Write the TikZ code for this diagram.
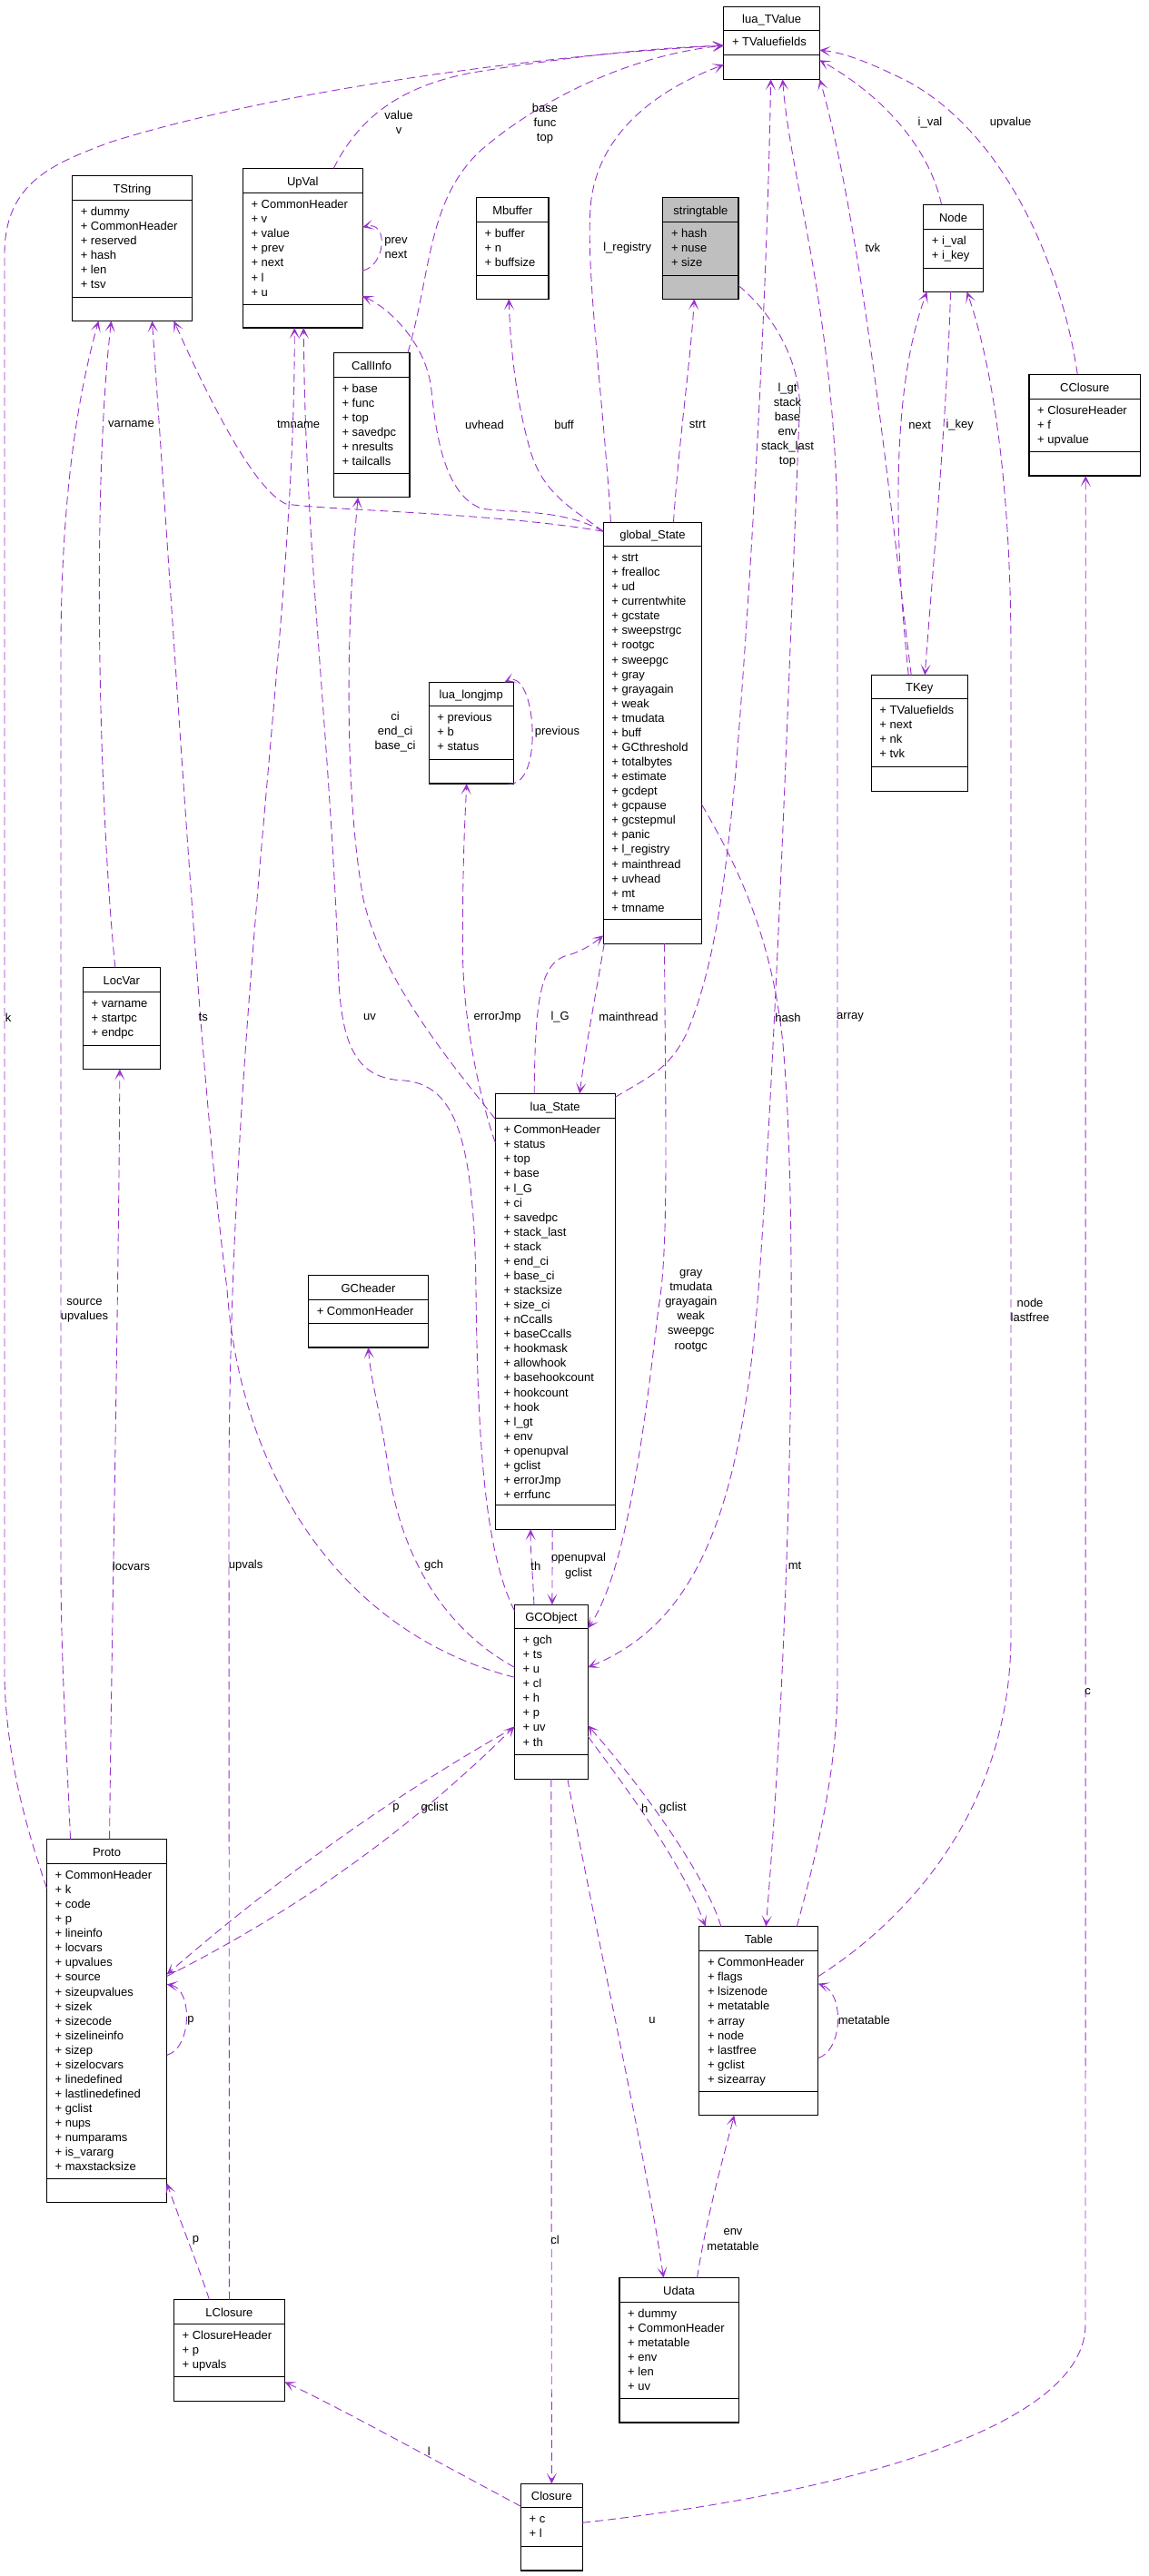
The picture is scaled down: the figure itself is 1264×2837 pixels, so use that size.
\documentclass[tikz,border=0pt]{standalone}
\usepackage{fontspec}
\setmainfont{Liberation Sans}
\usetikzlibrary{arrows.meta}
\definecolor{edgecol}{HTML}{9A32CD}
\definecolor{grayfill}{HTML}{BFBFBF}
\tikzset{
  boxfillstyle/.style={fill=white},
  classbox/.style={draw=black, line width=1.2pt, boxfillstyle, inner sep=0pt, outer sep=0pt},
  ttl/.style={font=\fontsize{13}{16}\selectfont, inner sep=0pt, text height=9.3pt, text depth=0pt},
  attr/.style={ttl, anchor=west},
  lbl/.style={font=\fontsize{13}{16.07}\selectfont, align=center, inner sep=0pt},
  edge/.style={draw=edgecol, line width=0.9pt, dash pattern=on 9pt off 5pt,
    -{Stealth[length=12pt,width=11pt,inset=7pt]}},
}
% #1 name, #2 left, #3 top, #4 right, #5 bottom, #6 sep1, #7 sep2, #8 title, #9 attributes
\newcommand\umlbox[9]{%
  \node[classbox, minimum width={(#4-#2)*1pt}, minimum height={(#5-#3)*1pt}] (#1) at ({(#2+#4)/2},{(#3+#5)/2}) {};
  \draw[line width=1.2pt] ({#2},{#6}) -- ({#4},{#6}) ({#2},{#7}) -- ({#4},{#7});
  \node[ttl] (#1-t) at ({(#2+#4)/2},{(#3+#6)/2+0.5}) {#8};
  \foreach \a [count=\i from 0] in {#9} {\node[attr] (#1-a\i) at ({#2+9},{#6+12.4+16.07*\i}) {+ \a};}
}
\begin{document}
\begin{tikzpicture}[x=1pt,y=-1pt]
\fill[white] (0,0) rectangle (1264,2837);
\useasboundingbox (0,0) rectangle (1264,2837);

% ---------------- classes ----------------
\umlbox{TValue}{796.8}{7.3}{902.4}{87.2}{33.4}{60.2}{lua\_TValue}{TValuefields}
\umlbox{TString}{79.6}{193.3}{211.4}{353.5}{220.4}{327.4}{TString}{dummy,CommonHeader,reserved,hash,len,tsv}
\umlbox{UpVal}{267.3}{185.5}{399.2}{360.9}{212.6}{335.6}{UpVal}{CommonHeader,v,value,prev,next,l,u}
\umlbox{Mbuffer}{524.5}{217.6}{604}{329.2}{244.3}{303.5}{Mbuffer}{buffer,n,buffsize}
\tikzset{boxfillstyle/.style={fill=grayfill}}
\umlbox{stringtable}{729.8}{217.6}{813}{329.2}{244.3}{303.5}{stringtable}{hash,nuse,size}
\tikzset{boxfillstyle/.style={fill=white}}
\umlbox{Node}{1016.7}{225.4}{1082.4}{321.4}{252.5}{295.2}{Node}{i\_val,i\_key}
\umlbox{CallInfo}{367.3}{388.4}{451}{547.7}{415.5}{521.6}{CallInfo}{base,func,top,savedpc,nresults,tailcalls}
\umlbox{CClosure}{1133}{412.3}{1255.5}{523.9}{439.4}{497.2}{CClosure}{ClosureHeader,f,upvalue}
\umlbox{globalState}{664.2}{575.3}{772.7}{1039.3}{601.5}{1012.2}{global\_State}{strt,frealloc,ud,currentwhite,gcstate,sweepstrgc,rootgc,sweepgc,gray,grayagain,weak,tmudata,buff,GCthreshold,totalbytes,estimate,gcdept,gcpause,gcstepmul,panic,l\_registry,mainthread,uvhead,mt,tmname}
\umlbox{longjmp}{472.2}{751.4}{565.3}{863}{777.6}{836.4}{lua\_longjmp}{previous,b,status}
\umlbox{TKey}{959.2}{743.6}{1065.3}{871.3}{769.3}{844.6}{TKey}{TValuefields,next,nk,tvk}
\umlbox{LocVar}{91.4}{1065.5}{176.3}{1177.5}{1092.6}{1151.3}{LocVar}{varname,startpc,endpc}
\umlbox{luaState}{545.3}{1204.5}{677.1}{1684.2}{1231.7}{1657.6}{lua\_State}{CommonHeader,status,top,base,l\_G,ci,savedpc,stack\_last,stack,end\_ci,base\_ci,stacksize,size\_ci,nCcalls,baseCcalls,hookmask,allowhook,basehookcount,hookcount,hook,l\_gt,env,openupval,gclist,errorJmp,errfunc}
\umlbox{GCheader}{339.6}{1404.6}{471.4}{1484}{1431.7}{1457.4}{GCheader}{CommonHeader}
\umlbox{GCObject}{566.5}{1767.3}{647.3}{1959.2}{1793.5}{1932.6}{GCObject}{gch,ts,u,cl,h,p,uv,th}
\umlbox{Proto}{51.4}{2025.3}{183.7}{2425.5}{2052.4}{2399.4}{Proto}{CommonHeader,k,code,p,lineinfo,locvars,upvalues,source,sizeupvalues,sizek,sizecode,sizelineinfo,sizep,sizelocvars,linedefined,lastlinedefined,gclist,nups,numparams,is\_vararg,maxstacksize}
\umlbox{Table}{769.8}{2121.6}{900.8}{2329.6}{2148.7}{2303.4}{Table}{CommonHeader,flags,lsizenode,metatable,array,node,lastfree,gclist,sizearray}
\umlbox{LClosure}{191.4}{2532.5}{313.5}{2644.1}{2559.6}{2617.5}{LClosure}{ClosureHeader,p,upvals}
\umlbox{Udata}{682}{2508.6}{813.1}{2668}{2535.3}{2641.3}{Udata}{dummy,CommonHeader,metatable,env,len,uv}
\umlbox{Closure}{573.5}{2735.5}{641.2}{2831}{2761.6}{2804.3}{Closure}{c,l}

% ---------------- connectors ----------------
% k
\draw[edge] ([yshift=146pt]Proto.west) .. controls (35,2030) and (8,1950) .. (5,1850) -- (5,280)
  .. controls (5,200) and (60,180) .. (120,157) .. controls (300,100) and (600,60) .. ([yshift=-3pt]TValue.west);
% value v
\draw[edge] ([xshift=34pt]UpVal.north) .. controls (395,130) and (440,95) .. (520,80)
  .. controls (600,67) and (700,53) .. ([yshift=-3pt]TValue.west);
% base func top
\draw[edge] ([xshift=-2pt]CallInfo.north east) .. controls (475,300) and (470,220) .. (530,165)
  .. controls (600,105) and (700,60) .. ([yshift=-3pt]TValue.west);
% l_registry
\draw[edge] ([xshift=-46pt]globalState.north) .. controls (665,450) and (645,300) .. (650,230)
  .. controls (655,150) and (720,100) .. ([yshift=-24pt]TValue.west);
% l_gt stack ...
\draw[edge] ([yshift=-4pt]luaState.north east) .. controls (710,1188) and (735,1180) .. (755,1140)
  .. controls (790,1060) and (800,950) .. (810,850) .. controls (830,600) and (845,300) .. ([xshift=-1pt]TValue.south);
% hash
\draw[edge] ([yshift=-41pt]stringtable.east) .. controls (850,345) and (885,400) .. (880,460)
  .. controls (870,700) and (855,1150) .. (835,1420) .. controls (815,1680) and (760,1790) .. ([yshift=27pt]GCObject.east);
% mt
\draw[edge] ([yshift=-79pt]globalState.east) .. controls (810,950) and (850,1030) .. (862,1150)
  .. controls (880,1350) and (870,1800) .. ([xshift=8pt]Table.north);
% array
\draw[edge] ([xshift=42pt]Table.north) .. controls (905,2020) and (922,1940) .. (922,1850) -- (922,600)
  .. controls (922,350) and (870,200) .. ([xshift=12pt]TValue.south);
% node lastfree
\draw[edge] ([yshift=49pt]Table.east) .. controls (990,2120) and (1113,2000) .. (1113,1800) -- (1113,720)
  .. controls (1113,500) and (1085,380) .. ([xshift=15pt]Node.south);
% c
\draw[edge] ([yshift=5pt]Closure.east) .. controls (900,2750) and (1195,2680) .. (1195,2560) -- ([xshift=1pt]CClosure.south);
% upvalue
\draw[edge] ([xshift=-8pt]CClosure.north) .. controls (1170,300) and (1110,150) .. (1000,90)
  .. controls (960,70) and (930,58) .. ([yshift=-8pt]TValue.east);
% i_val
\draw[edge] ([xshift=-13pt]Node.north) .. controls (1025,170) and (980,110) .. ([yshift=-19pt]TValue.east);
% tvk
\draw[edge] ([xshift=-9pt]TKey.north) .. controls (985,600) and (950,250) .. (TValue.south east);
% next
\draw[edge] ([xshift=-12pt]TKey.north) .. controls (985,600) and (980,430) .. ([xshift=-29pt]Node.south);
% i_key
\draw[edge] ([xshift=-3pt]Node.south) .. controls (1043,450) and (1025,650) .. ([xshift=6pt]TKey.north);
% strt
\draw[edge] ([xshift=23pt]globalState.north) .. controls (748,480) and (760,400) .. ([xshift=-7pt]stringtable.south);
% buff
\draw[edge] ([yshift=-10pt]globalState.north west) .. controls (630,560) and (600,545) .. (585,500)
  .. controls (570,450) and (562,390) .. ([xshift=-4pt]Mbuffer.south);
% uvhead
\draw[edge] ([yshift=-10pt]globalState.north west) .. controls (620,560) and (560,565) .. (530,560)
  .. controls (490,545) and (480,480) .. (475,430) .. controls (470,380) and (430,340) .. ([yshift=-53pt]UpVal.east);
% tmname
\draw[edge] ([yshift=-10pt]globalState.north west) .. controls (550,565) and (360,562) .. (315,555)
  .. controls (280,540) and (230,440) .. ([xshift=46pt]TString.south);
% varname
\draw[edge] ([xshift=-7pt]LocVar.north) .. controls (110,900) and (100,550) .. ([xshift=-23pt]TString.south);
% source upvalues
\draw[edge] ([xshift=-40pt]Proto.north) .. controls (72,1900) and (67,1820) .. (67,1720) -- (67,720)
  .. controls (67,530) and (90,420) .. ([xshift=-37pt]TString.south);
% locvars
\draw[edge] ([xshift=3pt]Proto.north) .. controls (123,1800) and (131,1400) .. ([xshift=-2pt]LocVar.south);
% upvals
\draw[edge] (LClosure.north) -- (252,1650) .. controls (252,1100) and (325,700) .. ([xshift=-9pt]UpVal.south);
% uv
\draw[edge] ([yshift=89pt]GCObject.west) .. controls (535,1710) and (526,1600) .. (524,1420)
  .. controls (522,1250) and (500,1195) .. (445,1190) .. controls (390,1188) and (373,1150) .. (372,1050)
  .. controls (362,800) and (336,600) .. ([xshift=1pt]UpVal.south);
% ts
\draw[edge] ([yshift=16pt]GCObject.west) .. controls (380,1800) and (265,1630) .. (250,1420)
  .. controls (222,1200) and (205,900) .. ([xshift=22pt]TString.south);
% gch
\draw[edge] ([yshift=27pt]GCObject.west) .. controls (500,1800) and (445,1730) .. (428,1620)
  .. controls (418,1550) and (408,1520) .. (GCheader.south);
% th
\draw[edge] ([xshift=-19pt]GCObject.north) .. controls (587,1740) and (584,1710) .. ([xshift=-27pt]luaState.south);
% openupval gclist
\draw[edge] ([xshift=-3pt]luaState.south) -- ([xshift=1pt]GCObject.north);
% gray ...
\draw[edge] ([xshift=13pt]globalState.south) .. controls (733,1250) and (736,1380) .. (725,1440)
  .. controls (710,1570) and (690,1730) .. ([yshift=70pt]GCObject.east);
% mainthread
\draw[edge] ([xshift=1pt]globalState.south west) .. controls (657,1090) and (645,1150) .. ([xshift=27pt]luaState.north);
% l_G
\draw[edge] ([xshift=-23pt]luaState.north) .. controls (589,1100) and (595,1060) .. (625,1052)
  .. controls (640,1048) and (652,1040) .. ([yshift=9pt]globalState.south west);
% errorJmp
\draw[edge] ([yshift=186pt]luaState.west) .. controls (530,1215) and (510,1130) .. (509.5,1050)
  .. controls (509,950) and (512,900) .. ([xshift=-5pt]longjmp.south);
% ci end_ci base_ci
\draw[edge] ([yshift=212pt]luaState.west) .. controls (500,1175) and (420,1080) .. (400,990)
  .. controls (380,880) and (380,700) .. ([xshift=-15pt]CallInfo.south);
% previous
\draw[edge] ([xshift=-6pt]longjmp.south east) .. controls (600,868) and (590,735) .. ([xshift=-10pt]longjmp.north east);
% prev next
\draw[edge] ([yshift=-25pt]UpVal.east) .. controls (425,292) and (428,243) .. ([yshift=23pt]UpVal.east);
% p (Proto self)
\draw[edge] ([yshift=-38pt]Proto.east) .. controls (212,2255) and (212,2190) .. ([yshift=40pt]Proto.east);
% p (GCObject -> Proto)
\draw[edge] ([yshift=-39pt]GCObject.west) .. controls (429,1980) and (303,2071) .. ([yshift=51pt]Proto.east);
% gclist (Proto -> GCObject)
\draw[edge] ([yshift=49pt]Proto.east) .. controls (327,2104) and (453,2014) .. ([yshift=-38pt]GCObject.west);
% p (LClosure -> Proto)
\draw[edge] ([xshift=-22pt]LClosure.north) .. controls (218,2495) and (198,2445) .. ([yshift=21pt]Proto.south east);
% l
\draw[edge] ([yshift=23pt]Closure.west) .. controls (470,2705) and (380,2655) .. ([yshift=-35pt]LClosure.east);
% cl
\draw[edge] (GCObject.south) -- (Closure.north);
% u
\draw[edge] ([xshift=18pt]GCObject.south) .. controls (650,2100) and (712,2380) .. ([xshift=-17pt]Udata.north);
% env metatable
\draw[edge] ([xshift=20pt]Udata.north) .. controls (778,2440) and (798,2370) .. ([xshift=-27pt]Table.south);
% metatable (Table self)
\draw[edge] ([yshift=-41pt]Table.east) .. controls (928,2258) and (930,2195) .. ([yshift=41pt]Table.east);
% h
\draw[edge] ([yshift=-49pt]GCObject.east) .. controls (690,1970) and (750,2050) .. ([xshift=7pt]Table.north west);
% gclist (Table -> GCObject)
\draw[edge] ([xshift=24pt]Table.north west) .. controls (775,2060) and (700,1960) .. ([yshift=-37pt]GCObject.east);

% ---------------- labels ----------------
\node[lbl] (lk) at (9,1120.6) {k};
\node[lbl] (lvalue) at (439,135) {value\\v};
\node[lbl] (lbase) at (600,136) {base\\func\\top};
\node[lbl] (lreg) at (690.7,273) {l\_registry};
\node[lbl] (llgt) at (867,468) {l\_gt\\stack\\base\\env\\stack\_last\\top};
\node[lbl] (lhash) at (867.5,1120.6) {hash};
\node[lbl] (lmt) at (875,1724.6) {mt};
\node[lbl] (larray) at (936,1120.6) {array};
\node[lbl] (lnode) at (1134,1443) {node\\lastfree};
\node[lbl] (lc) at (1197.6,1862.8) {c};
\node[lbl] (lupvalue) at (1112.7,135.4) {upvalue};
\node[lbl] (lival) at (1024,135.4) {i\_val};
\node[lbl] (ltvk) at (960.8,272.7) {tvk};
\node[lbl] (lnext) at (1012.6,468) {next};
\node[lbl] (likey) at (1056.7,468) {i\_key};
\node[lbl] (lstrt) at (768,467.4) {strt};
\node[lbl] (lbuff) at (621,467.4) {buff};
\node[lbl] (luvhead) at (533.5,467.4) {uvhead};
\node[lbl] (ltmname) at (328.6,467.4) {tmname};
\node[lbl] (lvarname) at (144.5,467.4) {varname};
\node[lbl] (lsource) at (93,1443) {source\\upvalues};
\node[lbl] (llocvars) at (144.5,1724.6) {locvars};
\node[lbl] (lupvals) at (270.6,1724.6) {upvals};
\node[lbl] (luv) at (407,1120.6) {uv};
\node[lbl] (lts) at (223.7,1120.6) {ts};
\node[lbl] (lgch) at (477.6,1724.6) {gch};
\node[lbl] (lth) at (589.8,1724.6) {th};
\node[lbl] (lopen) at (637,1724.6) {openupval\\gclist};
\node[lbl] (lgray) at (760.8,1443.7) {gray\\tmudata\\grayagain\\weak\\sweepgc\\rootgc};
\node[lbl] (lmain) at (692,1120) {mainthread};
\node[lbl] (llG) at (616.7,1120) {l\_G};
\node[lbl] (lerr) at (547.7,1120) {errorJmp};
\node[lbl] (lci) at (435,806.5) {ci\\end\_ci\\base\_ci};
\node[lbl] (lprevious) at (613.5,806.5) {previous};
\node[lbl] (lprev) at (436,273) {prev\\next};
\node[lbl] (lpself) at (210,2225.4) {p};
\node[lbl] (lp) at (436,1991.4) {p};
\node[lbl] (lgclistP) at (478.4,1991.4) {gclist};
\node[lbl] (lpL) at (215.5,2467.3) {p};
\node[lbl] (ll) at (472.2,2700) {l};
\node[lbl] (lcl) at (611,2467) {cl};
\node[lbl] (lu) at (718,2225) {u};
\node[lbl] (lenv) at (807,2466.5) {env\\metatable};
\node[lbl] (lmeta) at (951.4,2225) {metatable};
\node[lbl] (lh) at (709.8,1991.4) {h};
\node[lbl] (lgclistT) at (741,1991.4) {gclist};
\end{tikzpicture}
\end{document}
